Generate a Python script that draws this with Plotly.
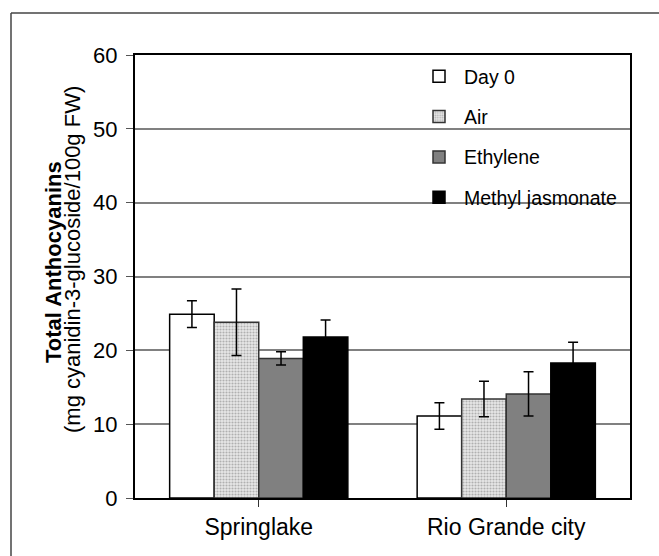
import plotly.graph_objects as go

categories = ["Springlake", "Rio Grande city"]
series_names = ["Day 0", "Air", "Ethylene", "Methyl jasmonate"]
day0 = [24.9, 11.1]
day0_err = [1.8, 1.8]
air = [23.8, 13.4]
air_err = [4.5, 2.4]
ethylene = [18.9, 14.1]
ethylene_err = [0.9, 3.0]
mejasmonate = [21.8, 18.3]
mejasmonate_err = [2.3, 2.8]
y_ticks = [0, 10, 20, 30, 40, 50, 60]

values = [day0, air, ethylene, mejasmonate]
errors = [day0_err, air_err, ethylene_err, mejasmonate_err]
fills = ["#ffffff", "#d9d9d9", "#808080", "#000000"]
lines = ["#000000", "#333333", "#333333", "#000000"]

fig = go.Figure()
for i, name in enumerate(series_names):
    marker = dict(color=fills[i], line=dict(color=lines[i], width=1.5))
    if name == "Air":
        marker["pattern"] = dict(shape=".", fgcolor="#b0b0b0", bgcolor="#e8e8e8",
                                 size=3, solidity=0.4, fillmode="replace")
    fig.add_trace(go.Bar(
        x=categories, y=values[i], name=name, marker=marker,
        legendgroup=name,
        error_y=dict(type="data", array=errors[i], visible=True,
                     color="#000000", thickness=1.5, width=5),
    ))

L, R, T, B = 135, 630, 55, 498
W, H = 659, 556
def px(xp):
    return (xp - L) / (R - L)
def py(yp):
    return (B - yp) / (B - T)

fig.update_layout(
    width=W, height=H,
    margin=dict(l=L, r=W - R, t=T, b=H - B),
    paper_bgcolor="white", plot_bgcolor="white",
    barmode="group", bargap=0.28, bargroupgap=0,
    font=dict(family="Liberation Sans, Arial, sans-serif", color="#000000"),
    showlegend=True,
    legend=dict(x=px(414), y=py(57), xanchor="left", yanchor="top",
                bgcolor="rgba(0,0,0,0)", font=dict(size=19.5),
                tracegroupgap=12, traceorder="grouped", itemwidth=40),
    xaxis=dict(showline=True, linecolor="#000000", linewidth=2, mirror=True,
               ticks="outside", ticklen=7, tickcolor="#333333", tickwidth=1,
               tickfont=dict(size=23), showgrid=False),
    yaxis=dict(range=[0, 60], tickvals=y_ticks, showline=True, linecolor="#000000",
               linewidth=2, mirror=True, ticks="outside", ticklen=7,
               tickcolor="#555555", tickwidth=1, tickfont=dict(size=22),
               showgrid=True, gridcolor="#808080", gridwidth=1.5,
               zeroline=False, ticklabelstandoff=4),
)

fig.add_annotation(text="<b>Total Anthocyanins</b>", xref="paper", yref="paper",
                   x=px(53), y=py(262), xanchor="center", yanchor="middle",
                   textangle=-90, showarrow=False, font=dict(size=22))
fig.add_annotation(text="(mg cyanidin-3-glucoside/100g FW)", xref="paper", yref="paper",
                   x=px(72), y=py(260), xanchor="center", yanchor="middle",
                   textangle=-90, showarrow=False, font=dict(size=22))

# outer frame (top and left edges)
fig.add_shape(type="line", xref="paper", yref="paper", x0=px(11), x1=px(659),
              y0=py(13), y1=py(13), line=dict(color="#444444", width=1.5))
fig.add_shape(type="line", xref="paper", yref="paper", x0=px(11), x1=px(11),
              y0=py(13), y1=py(556), line=dict(color="#444444", width=1.5))

fig.write_html("out.html")
